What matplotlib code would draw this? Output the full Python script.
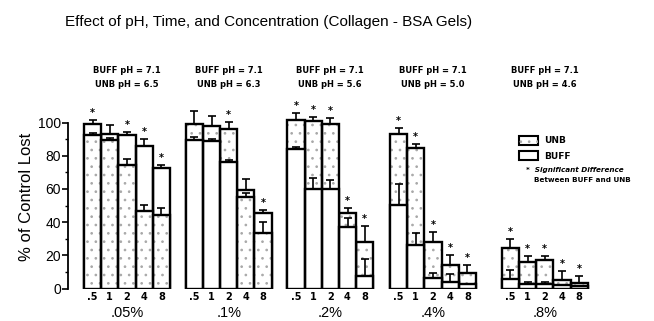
import matplotlib
matplotlib.use('Agg')
import matplotlib.pyplot as plt
from matplotlib.patches import Rectangle

# ---------------- data ----------------
times = ['.5', '1', '2', '4', '8']
concentrations = ['.05%', '.1%', '.2%', '.4%', '.8%']
buff_ph = '7.1'
unb_ph = ['6.5', '6.3', '5.6', '5.0', '4.6']

# % of control lost (BUFF and UNB) per concentration, per time
buff_05 = [98.8, 93.2, 92.7, 85.9, 72.4]
unb_05 = [92.7, 89.7, 74.4, 46.6, 44.4]
buff_err_05 = [3.0, 5.0, 1.5, 4.0, 2.0]
unb_err_05 = [1.0, 0.8, 3.6, 4.0, 4.2]
sig_05 = [1, 0, 1, 1, 1]

buff_1 = [89.3, 88.9, 76.4, 59.5, 45.6]
unb_1 = [99.2, 98.0, 96.2, 55.2, 33.3]
buff_err_1 = [2.0, 1.0, 1.0, 6.3, 1.5]
unb_err_1 = [7.9, 6.0, 4.0, 2.4, 6.8]
sig_1 = [0, 0, 1, 0, 1]

buff_2 = [84.3, 60.1, 60.1, 37.1, 7.4]
unb_2 = [101.6, 101.2, 98.8, 45.2, 28.2]
buff_err_2 = [1.0, 6.3, 5.0, 5.6, 10.3]
unb_err_2 = [4.0, 2.4, 4.0, 3.0, 9.5]
sig_2 = [1, 1, 1, 1, 1]

buff_4 = [50.6, 26.2, 6.5, 4.0, 3.0]
unb_4 = [92.9, 84.9, 28.2, 13.9, 9.3]
buff_err_4 = [12.5, 7.1, 3.0, 5.0, 0.0]
unb_err_4 = [4.0, 2.4, 5.6, 6.0, 4.6]
sig_4 = [1, 1, 1, 1, 1]

buff_8 = [5.8, 2.8, 2.8, 2.0, 1.5]
unb_8 = [24.5, 15.8, 17.3, 5.2, 3.2]
buff_err_8 = [5.4, 1.0, 1.0, 0.0, 0.0]
unb_err_8 = [5.4, 4.0, 2.4, 5.2, 4.6]
sig_8 = [1, 1, 1, 1, 1]

buff_all = [buff_05, buff_1, buff_2, buff_4, buff_8]
unb_all = [unb_05, unb_1, unb_2, unb_4, unb_8]
buff_err_all = [buff_err_05, buff_err_1, buff_err_2, buff_err_4, buff_err_8]
unb_err_all = [unb_err_05, unb_err_1, unb_err_2, unb_err_4, unb_err_8]
sig_all = [sig_05, sig_1, sig_2, sig_4, sig_8]

# ---------------- layout ----------------
W, H = 654, 321
fig = plt.figure(figsize=(W / 100, H / 100), dpi=100)
plt.rcParams['hatch.linewidth'] = 0.7

bar_px = 17.2
first_left = 84
group_left_px = [84, 185.7, 287.3, 390, 501.7]
group_starts = [(g - first_left) / bar_px for g in group_left_px]

ax_left, ax_right = 68, 600
y0_px, ppu = 288.5, 1.66
ymax = 110
ax = fig.add_axes([ax_left / W, (H - y0_px) / H, (ax_right - ax_left) / W,
                   ymax * ppu / H])
ax.set_ylim(0, ymax)
ax.set_xlim(-0.5 - (first_left - ax_left) / bar_px,
            -0.5 + (ax_right - first_left) / bar_px)

EDGE = 1.7
HATCH_COL = '#a8a8a8'
sans = ['Liberation Sans', 'DejaVu Sans']


def draw_rect(x, h, stipple, z):
    ax.bar(x, h, width=1.0, color='white', linewidth=0, zorder=z)
    if stipple:
        ax.bar(x, h, width=1.0, color='none', edgecolor=HATCH_COL,
               hatch='..', linewidth=0, zorder=z + 0.1)
    ax.bar(x, h, width=1.0, color='none', edgecolor='black',
           linewidth=EDGE, zorder=z + 0.2)


for gi in range(len(concentrations)):
    base = group_starts[gi]
    for ti in range(len(times)):
        x = base + ti
        b = buff_all[gi][ti]
        u = unb_all[gi][ti]
        be = buff_err_all[gi][ti]
        ue = unb_err_all[gi][ti]
        # taller bar behind, shorter in front
        if b >= u:
            draw_rect(x, b, False, 2)
            draw_rect(x, u, True, 3)
        else:
            draw_rect(x, u, True, 2)
            draw_rect(x, b, False, 3)
        tops = []
        for val, err in ((b, be), (u, ue)):
            if err > 0:
                ax.errorbar(x, val, yerr=[[0], [err]], fmt='none', ecolor='black',
                            elinewidth=1.2, capsize=3.0, capthick=1.2, zorder=6)
            tops.append(val + err)
        if sig_all[gi][ti]:
            ax.text(x, max(tops) + 1.2, '*', ha='center', va='bottom',
                    fontsize=7, fontweight='bold', zorder=7)
        ax.text(x, -5.2, times[ti], ha='center', va='center', fontsize=7,
                fontweight='bold', clip_on=False)
    cx = base + 2
    ax.text(cx, -14.8, concentrations[gi], ha='center', va='center',
            fontsize=10.5, family=sans, clip_on=False)
    ax.text(cx, 131.5, 'BUFF pH = ' + buff_ph, ha='center', va='center',
            fontsize=6, fontweight='bold', clip_on=False)
    ax.text(cx, 123.0, 'UNB pH = ' + unb_ph[gi], ha='center', va='center',
            fontsize=6, fontweight='bold', clip_on=False)

# axes styling
for s in ['top', 'right', 'bottom']:
    ax.spines[s].set_visible(False)
ax.spines['left'].set_bounds(0, 100)
ax.spines['left'].set_linewidth(1.3)
ax.set_yticks(range(0, 101, 20))
ax.set_yticks(range(10, 100, 20), minor=True)
ax.set_yticklabels([str(v) for v in range(0, 101, 20)], fontsize=10,
                   family=sans)
ax.tick_params(axis='y', which='major', length=4, width=1.2, pad=1)
ax.tick_params(axis='y', which='minor', length=2, width=1.0)
ax.set_xticks([])
ax.set_ylabel('% of Control Lost', fontsize=12, family=sans, labelpad=3)

# title
fig.text(269 / W, 1 - 22 / H,
         'Effect of pH, Time, and Concentration (Collagen - BSA Gels)',
         ha='center', va='center', fontsize=11, family=sans)

# legend
def fig_rect(x, y, w, h, stipple):
    fig.patches.append(Rectangle((x / W, 1 - (y + h) / H), w / W, h / H,
                                 transform=fig.transFigure, facecolor='white',
                                 edgecolor='black', linewidth=1.5))
    if stipple:
        fig.patches.append(Rectangle((x / W, 1 - (y + h) / H), w / W, h / H,
                                     transform=fig.transFigure, facecolor='none',
                                     edgecolor=HATCH_COL, hatch='..',
                                     linewidth=0))

fig_rect(519, 136, 19, 9, True)
fig_rect(519, 151, 19, 9, False)
fig.text(544 / W, 1 - 141 / H, 'UNB', fontsize=6.5, fontweight='bold',
         va='center')
fig.text(544 / W, 1 - 156 / H, 'BUFF', fontsize=6.5, fontweight='bold',
         va='center')
fig.text(526 / W, 1 - 170 / H, '*  Significant Difference', fontsize=5.2,
         fontweight='bold', style='italic', va='center')
fig.text(534 / W, 1 - 180 / H, 'Between BUFF and UNB', fontsize=5.2,
         fontweight='bold', va='center')

fig.savefig('out.png', dpi=100)
